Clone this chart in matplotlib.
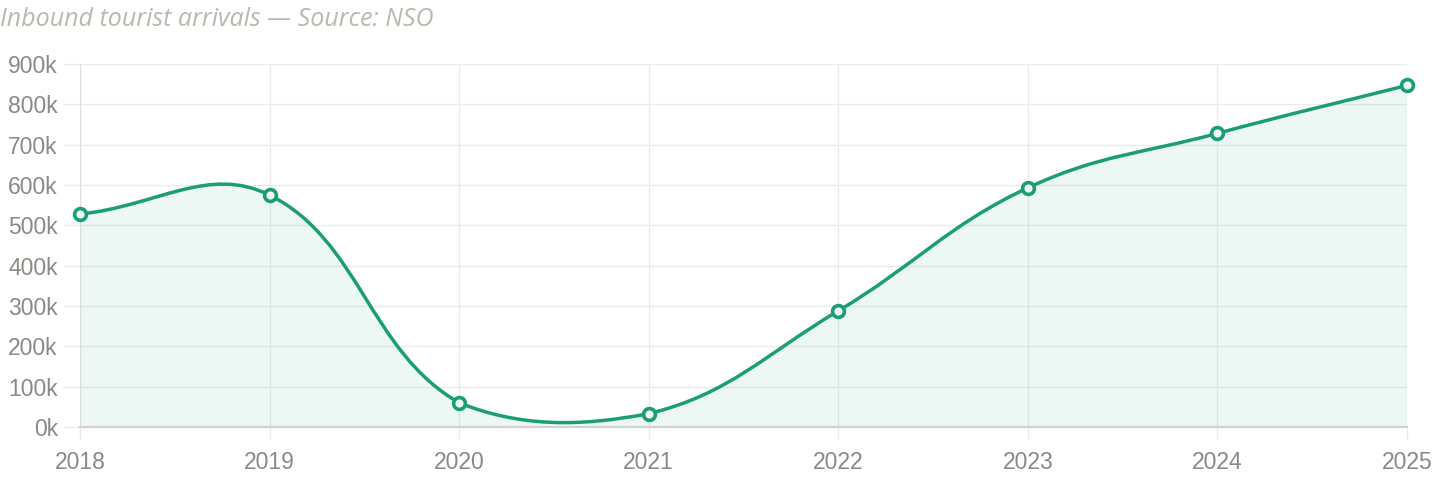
import numpy as np
import matplotlib
matplotlib.use('Agg')
from matplotlib import pyplot as plt
from matplotlib.path import Path
from matplotlib.patches import PathPatch

years = [2018, 2019, 2020, 2021, 2022, 2023, 2024, 2025]
arrivals = [528, 575, 60, 33, 288, 593, 728, 847]  # thousands
yticks = [0, 100, 200, 300, 400, 500, 600, 700, 800, 900]
title = 'Inbound tourist arrivals \u2014 Source: NSO'

green = '#1b9e77'
W, H = 1440, 484
fig = plt.figure(figsize=(W / 100, H / 100), dpi=100)
left, right, top, bottom = 80, 1407, 64, 427
ax = fig.add_axes([left / W, 1 - bottom / H, (right - left) / W, (bottom - top) / H])
ax.set_xlim(years[0], years[-1])
ax.set_ylim(yticks[0], yticks[-1])

# spline a la chart.js (tension 0.4), control points computed in pixel space
sx = (right - left) / (years[-1] - years[0])
sy = (bottom - top) / (yticks[-1] - yticks[0])
P = np.column_stack([np.array(years, float) * sx, np.array(arrivals, float) * sy])
n = len(P)
cp_prev = P.copy()
cp_next = P.copy()
t = 0.4
for i in range(n):
    prv = P[i - 1] if i > 0 else P[i]
    nxt = P[i + 1] if i < n - 1 else P[i]
    d01 = np.hypot(*(P[i] - prv))
    d12 = np.hypot(*(nxt - P[i]))
    tot = d01 + d12
    s01 = d01 / tot if tot else 0
    s12 = d12 / tot if tot else 0
    cp_prev[i] = P[i] - t * s01 * (nxt - prv)
    cp_next[i] = P[i] + t * s12 * (nxt - prv)
# back to data units, capped to chart area
def to_data(a):
    d = np.column_stack([a[:, 0] / sx, a[:, 1] / sy])
    d[:, 0] = np.clip(d[:, 0], years[0], years[-1])
    d[:, 1] = np.clip(d[:, 1], yticks[0], yticks[-1])
    return d
cp_prev = to_data(cp_prev)
cp_next = to_data(cp_next)
pts = np.column_stack([years, arrivals]).astype(float)

verts = [pts[0]]
codes = [Path.MOVETO]
for i in range(n - 1):
    verts += [cp_next[i], cp_prev[i + 1], pts[i + 1]]
    codes += [Path.CURVE4] * 3
line_path = Path(verts, codes)
fill_path = Path(verts + [(years[-1], 0), (years[0], 0), pts[0]],
                 codes + [Path.LINETO, Path.LINETO, Path.CLOSEPOLY])

ax.add_patch(PathPatch(fill_path, facecolor=green, alpha=0.08, edgecolor='none', zorder=2))
ax.add_patch(PathPatch(line_path, facecolor='none', edgecolor=green, lw=2.5,
                       capstyle='round', joinstyle='round', zorder=3))
ax.plot(years, arrivals, 'o', ms=8.5, mew=2.6, mec=green, mfc='#eef7f3', zorder=4, clip_on=False)

ax.set_xticks(years)
ax.set_xticklabels([str(y) for y in years])
ax.set_yticks(yticks)
ax.set_yticklabels([f'{v}k' for v in yticks])
ax.grid(True, color='#ebebeb', lw=1.0, zorder=0)
ax.set_axisbelow(True)
for s in ['top', 'right']:
    ax.spines[s].set_visible(False)
ax.spines['left'].set_color('#dddddd')
ax.spines['bottom'].set_color('#d0d0d0')
ax.spines['bottom'].set_linewidth(1.5)
ax.tick_params(axis='y', length=12, width=1, color='#ebebeb', pad=4, labelsize=16.5, labelcolor='#8a8a85')
ax.tick_params(axis='x', length=9.5, width=1, color='#ebebeb', pad=8, labelsize=16.5, labelcolor='#8a8a85')
for lab in ax.get_xticklabels() + ax.get_yticklabels():
    lab.set_fontfamily('Liberation Sans')

fig.text(0, 1 - 19 / H, title, ha='left', va='center', fontsize=18, style='italic',
         color='#bdb8ad', family=['Open Sans', 'Lato', 'DejaVu Sans'])

fig.savefig('out.png', dpi=100, facecolor='white')
